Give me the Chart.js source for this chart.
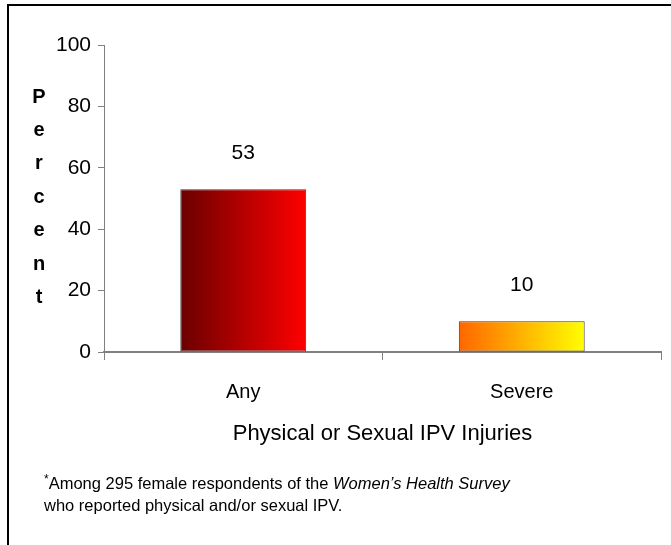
<!DOCTYPE html>
<html>
<head>
<meta charset="utf-8">
<script src="https://cdn.jsdelivr.net/npm/chart.js@4"></script>
<style>
  html, body { margin: 0; padding: 0; background: #fff; }
  #wrap { position: relative; width: 671px; height: 545px; }
</style>
</head>
<body>
<div id="wrap"><canvas id="chart" width="671" height="545"></canvas></div>
<script>
var categories = ["Any", "Severe"]
var percents = [53, 10]
var yTicks = [0, 20, 40, 60, 80, 100]
var barColours = [["#6b0000", "#ff0000"], ["#ff6600", "#ffff00"]]
var axisTitle = "Physical or Sexual IPV Injuries"
var yTitle = "Percent"
var noteStart = "*Among 295 female respondents of the "
var noteItalic = "Women\u2019s Health Survey"
var noteLine2 = "who reported physical and/or sexual IPV."

var font = "Arial, 'Liberation Sans', sans-serif"
var barPct = 0.452

// frame, vertical "Percent", axis title, footnote and value labels
var extras = {
  id: "extras",
  afterDraw: function(chart) {
    var ctx = chart.ctx
    var area = chart.chartArea
    ctx.save()

    ctx.fillStyle = "#000"
    ctx.fillRect(7, 4, 671, 2)
    ctx.fillRect(7, 4, 2, 545)

    ctx.textAlign = "center"
    ctx.textBaseline = "middle"
    ctx.font = "bold 20px " + font
    for (var i = 0; i < yTitle.length; i++) {
      ctx.fillText(yTitle[i], 39, 97 + i * 33.4)
    }

    ctx.font = "22px " + font
    ctx.fillText(axisTitle, (area.left + area.right) / 2, 434)

    var meta = chart.getDatasetMeta(0)
    ctx.font = "21px " + font
    meta.data.forEach(function(bar, i) {
      ctx.fillText(percents[i], bar.x, bar.y - 36)
    })

    ctx.textAlign = "left"
    var x = 44
    ctx.font = "12px " + font
    ctx.fillText("*", x, 480)
    x += ctx.measureText("*").width
    ctx.font = "16.5px " + font
    var rest = noteStart.slice(1)
    ctx.fillText(rest, x, 484)
    x += ctx.measureText(rest).width
    ctx.font = "italic 16.5px " + font
    ctx.fillText(noteItalic, x, 484)
    ctx.font = "16.5px " + font
    ctx.fillText(noteLine2, 44, 506)
    ctx.restore()
  }
}

new Chart(document.getElementById("chart"), {
  type: "bar",
  data: {
    labels: categories,
    datasets: [{
      data: percents,
      categoryPercentage: 1,
      barPercentage: barPct,
      borderColor: "#3a3a3a",
      borderWidth: 1,
      borderSkipped: false,
      backgroundColor: function(context) {
        var chart = context.chart
        var xs = chart.scales.x
        var cols = barColours[context.dataIndex]
        if (!chart.chartArea || !xs) return cols[1]
        var cx = xs.getPixelForValue(context.dataIndex)
        var half = xs.width / categories.length * barPct / 2
        var g = chart.ctx.createLinearGradient(cx - half, 0, cx + half, 0)
        g.addColorStop(0, cols[0])
        g.addColorStop(1, cols[1])
        return g
      }
    }]
  },
  options: {
    responsive: false,
    animation: false,
    layout: { padding: { top: 45, right: 10, left: 0, bottom: 0 } },
    plugins: {
      legend: { display: false },
      tooltip: { enabled: false }
    },
    scales: {
      x: {
        grid: {
          offset: true,
          drawOnChartArea: false,
          tickLength: 8,
          tickWidth: 1,
          color: "#808080"
        },
        border: { color: "#808080", width: 2 },
        ticks: {
          color: "#000",
          padding: 20,
          font: { family: font, size: 20 }
        },
        afterFit: function(s) {
          s.height = 193
          s.paddingLeft = 0
          s.paddingRight = 0
        }
      },
      y: {
        min: 0,
        max: 100,
        afterBuildTicks: function(s) {
          s.ticks = yTicks.map(function(v) { return { value: v } })
        },
        grid: {
          drawOnChartArea: false,
          tickLength: 6,
          color: "#808080"
        },
        border: { color: "#808080", width: 1 },
        ticks: {
          color: "#000",
          padding: 7,
          font: { family: font, size: 21 }
        },
        afterFit: function(s) {
          s.width = 104
          s.paddingTop = 0
          s.paddingBottom = 0
        }
      }
    }
  },
  plugins: [extras]
})
</script>
</body>
</html>
